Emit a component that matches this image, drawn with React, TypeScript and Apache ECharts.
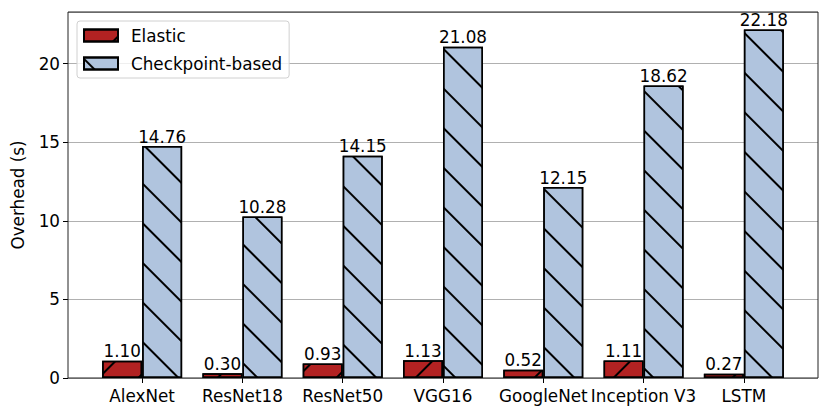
import React, { useEffect, useRef } from "react";
import * as echarts from "echarts";

const categories = ["AlexNet", "ResNet18", "ResNet50", "VGG16", "GoogleNet", "Inception V3", "LSTM"];
const elastic = [1.1, 0.3, 0.93, 1.13, 0.52, 1.11, 0.27];
const checkpoint = [14.76, 10.28, 14.15, 21.08, 12.15, 18.62, 22.18];
const yTicks = [0, 5, 10, 15, 20];
const seriesNames = ["Elastic", "Checkpoint-based"];

const FONT = "DejaVu Sans";
const FS = 16.8;
const YMAX = 23.29;

export default function App() {
  const ref = useRef<HTMLDivElement>(null);
  useEffect(() => {
    if (!ref.current) return;
    const chart = echarts.init(ref.current, null, { renderer: "svg" });
    const hatch = (rot: number) => ({
      symbol: "rect",
      symbolSize: 1,
      color: "#000",
      dashArrayX: [1, 0],
      dashArrayY: [1.8, 26],
      rotation: rot,
    });
    const label = {
      show: true,
      position: "top" as const,
      distance: 1,
      color: "#000",
      fontFamily: FONT,
      fontSize: FS,
      formatter: (p: any) => Number(p.value).toFixed(2),
    };
    chart.setOption({
      animation: false,
      textStyle: { fontFamily: FONT },
      grid: [
        { left: 68, right: 13, top: 12, bottom: 40, show: true, borderColor: "#222", borderWidth: 1, backgroundColor: "transparent", z: 3 },
        { left: 92, right: 37, top: 12, bottom: 40 },
      ],
      legend: {
        orient: "vertical",
        left: 77,
        top: 21,
        padding: [6, 7, 6, 6],
        itemWidth: 34,
        itemHeight: 12,
        itemGap: 11,
        icon: "rect",
        borderColor: "#d0d0d0",
        borderWidth: 1,
        borderRadius: 3,
        backgroundColor: "rgba(255,255,255,0.8)",
        textStyle: { fontFamily: FONT, fontSize: FS, color: "#000", padding: [0, 0, 0, 8] },
        data: seriesNames,
        z: 10,
      },
      xAxis: [
        { type: "value", gridIndex: 0, min: 0, max: 1, show: false },
        {
          type: "category",
          gridIndex: 1,
          data: categories,
          axisLine: { show: false },
          axisTick: { show: true, alignWithLabel: true, length: 5, lineStyle: { color: "#000", width: 1 } },
          axisLabel: { color: "#000", fontFamily: FONT, fontSize: FS, margin: 9, interval: 0 },
        },
      ],
      yAxis: [
        {
          type: "value",
          gridIndex: 0,
          min: 0,
          max: YMAX,
          interval: 5,
          name: "Overhead (s)",
          nameLocation: "middle",
          nameGap: 42,
          nameRotate: 90,
          nameTextStyle: { color: "#000", fontFamily: FONT, fontSize: FS },
          axisLine: { show: false },
          axisTick: { show: true, length: 5, lineStyle: { color: "#000", width: 1 } },
          axisLabel: {
            color: "#000",
            fontFamily: FONT,
            fontSize: FS,
            margin: 8,
            showMaxLabel: false,
            formatter: (v: number) => (yTicks.includes(v) ? String(v) : ""),
          },
          splitLine: { show: true, lineStyle: { color: "#b0b0b0", width: 1 } },
        },
        { type: "value", gridIndex: 1, min: 0, max: YMAX, show: false, splitLine: { show: false } },
      ],
      series: [
        {
          name: seriesNames[0],
          type: "bar",
          xAxisIndex: 1,
          yAxisIndex: 1,
          data: elastic,
          barWidth: 40,
          barGap: "0%",
          itemStyle: { color: "#b22222", borderColor: "#000", borderWidth: 1.5, decal: hatch(-Math.PI / 4) },
          label,
          z: 4,
        },
        {
          name: seriesNames[1],
          type: "bar",
          xAxisIndex: 1,
          yAxisIndex: 1,
          data: checkpoint,
          barWidth: 40,
          barGap: "0%",
          itemStyle: { color: "#b0c4de", borderColor: "#000", borderWidth: 1.5, decal: hatch(Math.PI / 4) },
          label,
          z: 4,
        },
      ],
    });
    return () => chart.dispose();
  }, []);
  return <div ref={ref} style={{ width: 831, height: 418, position: "absolute", left: 0, top: 0 }} />;
}
